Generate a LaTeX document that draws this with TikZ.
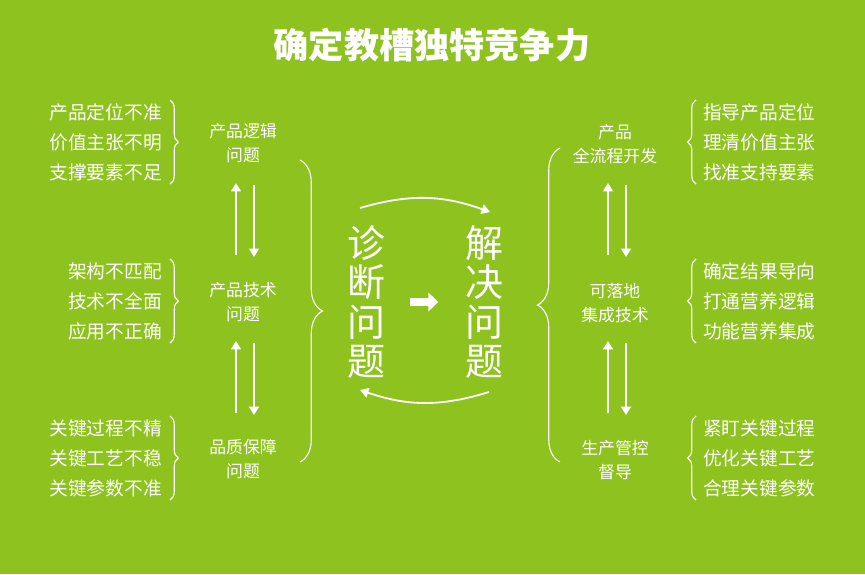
\documentclass[tikz,border=0pt]{standalone}
\usepackage{fontspec}
\newfontfamily\cjk{Noto Sans CJK SC}
\usetikzlibrary{positioning,decorations.pathreplacing,arrows.meta}
\definecolor{bggreen}{RGB}{141,194,31}
\tikzset{item/.style={text=white,font=\cjk\fontsize{13.3}{15}\selectfont,inner sep=0pt},
  topic/.style={text=white,font=\cjk\fontsize{12}{17.5}\selectfont,align=center,inner sep=0pt},
  big/.style={text=white,font=\cjk\fontsize{27}{28}\selectfont,align=center,inner sep=0pt},
  brc/.style={white,thick,decorate,decoration={brace,amplitude=6pt}},
  bigbrc/.style={white,thick,decorate,decoration={brace,amplitude=16pt}},
  arr/.style={white,line width=1.6pt,-{Triangle[length=6pt,width=7pt]}}}
\begin{document}
\begin{tikzpicture}[x=0.025cm,y=-0.025cm]
\fill[bggreen] (0,0) rectangle (865,574);
\node[text=white,font=\cjk\bfseries\fontsize{25}{28}\selectfont] (title) at (432,45) {确定教槽独特竞争力};

% left column
\node[item,anchor=east] (l1) at (162,112) {产品定位不准};
\node[item,anchor=east] (l2) at (162,142) {价值主张不明};
\node[item,anchor=east] (l3) at (162,172) {支撑要素不足};
\node[item,anchor=east] (l4) at (162,271) {架构不匹配};
\node[item,anchor=east] (l5) at (162,301) {技术不全面};
\node[item,anchor=east] (l6) at (162,331) {应用不正确};
\node[item,anchor=east] (l7) at (162,428) {关键过程不精};
\node[item,anchor=east] (l8) at (162,458) {关键工艺不稳};
\node[item,anchor=east] (l9) at (162,488) {关键参数不准};

\draw[brc] (170,100) -- (170,184);
\draw[brc] (170,259) -- (170,343);
\draw[brc] (170,416) -- (170,500);

\node[topic] (p1) at (243,143) {产品逻辑\\问题};
\node[topic] (p2) at (243,302) {产品技术\\问题};
\node[topic] (p3) at (243,459) {品质保障\\问题};

\draw[arr] (236,255) -- (236,183);
\draw[arr] (254,185) -- (254,257);
\draw[arr] (236,413) -- (236,341);
\draw[arr] (254,343) -- (254,415);

\draw[bigbrc] (300,160) -- (300,462);

% centre
\node[big] (diag) at (366,302) {诊\\断\\问\\题};
\node[big] (solve) at (484,302) {解\\决\\问\\题};
\draw[white,line width=5pt,-{Triangle[length=7pt,width=13pt]}] (diag.east)+(25,0) coordinate (a0) (a0) -- ++(28,0) coordinate (a1);
\coordinate (t0) at (360,208);
\coordinate (t1) at (490,212);
\coordinate (b0) at (489,392);
\coordinate (b1) at (360,390);
\draw[arr,line width=1.3pt] (t0) to[bend left=18] (t1);
\draw[arr,line width=1.3pt] (b0) to[bend left=18] (b1);

% right column
\draw[bigbrc] (560,462) -- (560,148);

\node[topic] (s1) at (615,144) {产品\\全流程开发};
\node[topic] (s2) at (615,303) {可落地\\集成技术};
\node[topic] (s3) at (615,460) {生产管控\\督导};

\draw[arr] (608,255) -- (608,183);
\draw[arr] (626,185) -- (626,257);
\draw[arr] (608,413) -- (608,341);
\draw[arr] (626,343) -- (626,415);

\draw[brc] (696,184) -- (696,100);
\draw[brc] (696,343) -- (696,259);
\draw[brc] (696,500) -- (696,416);

\node[item,anchor=west] (r1) at (703,112) {指导产品定位};
\node[item,anchor=west] (r2) at (703,142) {理清价值主张};
\node[item,anchor=west] (r3) at (703,172) {找准支持要素};
\node[item,anchor=west] (r4) at (703,271) {确定结果导向};
\node[item,anchor=west] (r5) at (703,301) {打通营养逻辑};
\node[item,anchor=west] (r6) at (703,331) {功能营养集成};
\node[item,anchor=west] (r7) at (703,428) {紧盯关键过程};
\node[item,anchor=west] (r8) at (703,458) {优化关键工艺};
\node[item,anchor=west] (r9) at (703,488) {合理关键参数};
\end{tikzpicture}
\end{document}
